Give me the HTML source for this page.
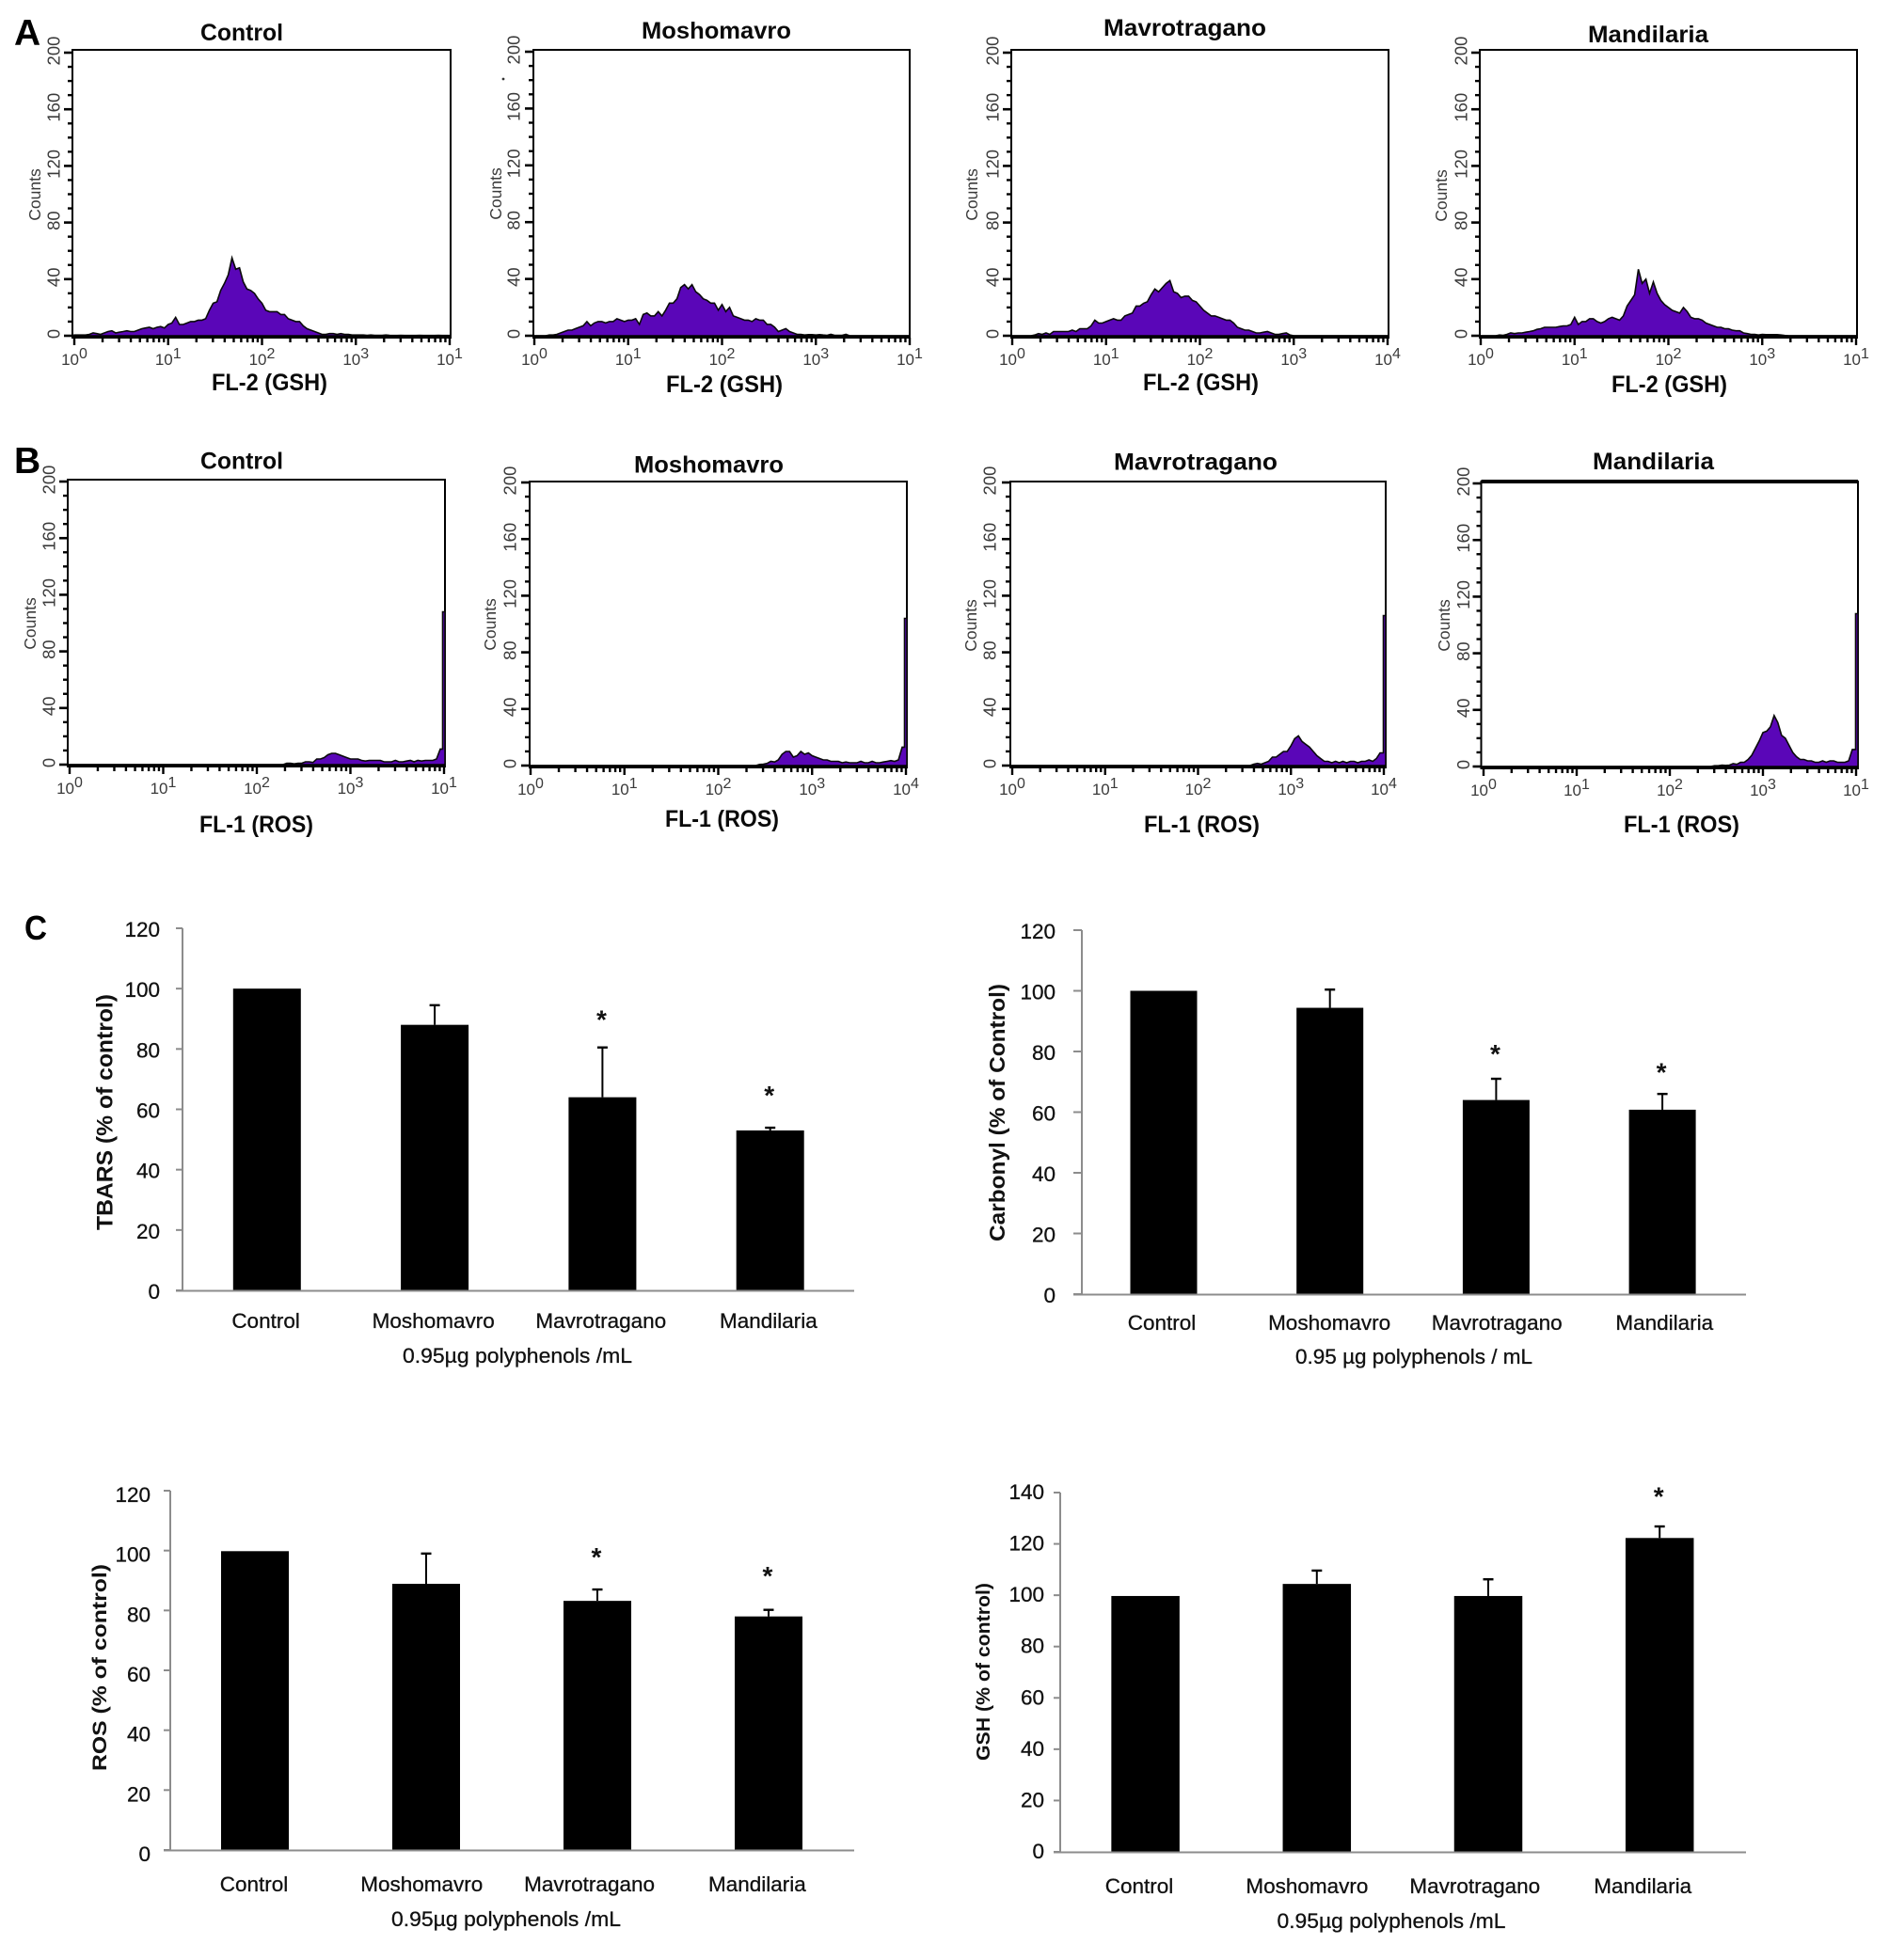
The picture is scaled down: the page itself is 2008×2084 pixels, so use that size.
<!DOCTYPE html>
<html lang="en">
<head>
<meta charset="utf-8">
<title>Flow cytometry histograms and oxidative stress bar charts</title>
<style>
  html, body { margin: 0; padding: 0; background: #fff; }
  svg { display: block; }
  text { font-family: "Liberation Sans", sans-serif; }
  .flow-tick { fill: #3a3a3a; font-size: 17px; }
  .flow-title { fill: #0a0a0a; font-size: 25px; font-weight: bold; }
  .bar-text { fill: #111; font-size: 22.5px; stroke: #111; stroke-width: .3px; }
  .bar-title { fill: #111; font-weight: bold; }
  .panel-letter { fill: #000; font-weight: bold; }
</style>
</head>
<body>
<svg id="figure" xmlns="http://www.w3.org/2000/svg" width="2008" height="2084" viewBox="0 0 2008 2084">
  <rect width="2008" height="2084" fill="#fff"/>
  <text class="panel-letter" x="15" y="48" font-size="39">A</text>
  <text class="panel-letter" x="15" y="503" font-size="39">B</text>
  <text class="panel-letter" x="26" y="999" font-size="36" textLength="24" lengthAdjust="spacingAndGlyphs">C</text>
  <circle cx="535" cy="84" r="1.4" fill="#333"/>
</svg>
<script>
// ---------- Histogram data: counts per channel bin (101 bins over 4 log decades) ----------
const gshControl = [0.5,0.5,0.5,0.5,1,2,1.5,1,2,3,3.5,2,2.5,3,3.5,3,3,4,5,5.5,6,5,6,6.5,5.5,8,9,13,8,8,9,10,10,11,11,12,18,23,24,32,37,43,55,47,48,38,33,32,30,26,23,18,17,17,17,15,15,12,11,10,10,7,5,4,3,2,1,1,1.5,1.5,1,1.5,1,1,0.5,0.5,0.5,0.5,0.3,0.5,0.3,0.3,0.3,0.5,0.3,0.2,0.2,0.3,0.2,0.2,0.2,0.2,0.3,0.2,0.2,0.2,0.2,0.3,0.2,0.2,0.2];
const gshMoshomavro = [0,0,0,0,0.5,0.5,1,2,3,4,4,5,6,7,10,7,9,10,10,9,10,10,12,11,10,11,11,12,8,15,16,14,14,17,14,18,23,23,26,34,36,33,36,31,29,26,25,23,23,18,22,17,20,14,13,12,11,11,10,12,11,11,8,8,6,3,4,5,3,2,1,1,0.5,0.8,0.8,0.5,0.8,0.5,0.3,1,0.3,0.3,0.3,1,0,0,0,0,0,0,0,0,0,0,0,0,0,0,0,0,0];
const gshMavrotragano = [0,0,0,0,0,0,0.5,1.5,1,2,1,3,3,3,3,3,4,3,5,5,5,7,11,9,9,10,11,12,11,11,14,15,16,21,21,23,24,29,33,31,34,37,39,31,30,27,28,28,25,24,21,18,16,14,14,13,12,11,11,9,6,5,4,4,3,2,2,2.5,3,2,1,1,1.5,2,0.5,0,0,0,0,0,0,0,0,0,0,0,0,0,0,0,0,0,0,0,0,0,0,0,0,0,0];
const gshMandilaria = [0,0,0,0,0,0.5,0.3,1,2,1.5,2,2,2.5,3,3.5,4.5,5,6,6,6,6,6.5,7,7,8,13,8,10,10,12,12,10,9,10,12,13,12,11,14,21,25,29,47,37,40,30,38,30,25,22,20,18,17,16,20,17,13,12,12,11,9,8,7,6,6,5,5,4,3.5,3.5,2,1.5,1,1,0.5,1,0.8,0.8,0.8,0.8,0.5,0.2,0,0,0,0,0,0,0,0,0,0,0,0,0,0,0,0,0,0,0];
const rosControl = [0,0,0,0,0,0,0,0,0,0,0,0,0,0,0,0,0,0,0,0,0,0,0,0,0,0,0,0,0,0,0,0,0,0,0,0,0,0,0,0,0,0,0,0,0,0,0,0,0,0,0,0,0,0,0,0,0,0,1,1,0.5,1,1,2,2,1.5,4,4,5,7,8,8,7,6,5,4,4,4,3,2.5,3,3,3,3,2,2,2,3,2,2,2.5,3,2,3,2.5,3,3,3,4,11,108];
const rosMoshomavro = [0,0,0,0,0,0,0,0,0,0,0,0,0,0,0,0,0,0,0,0,0,0,0,0,0,0,0,0,0,0,0,0,0,0,0,0,0,0,0,0,0,0,0,0,0,0,0,0,0,0,0,0,0,0,0,0,0,0,0,0,0,0.8,1,1.5,3,2.5,4,8,10,10,6,7,10,8,9,7,6,5,4,4,3,3,3,2,2.5,2,2,2,3,2,2,3,2,2,2.5,3,3.5,3,4,13,104];
const rosMavrotragano = [0,0,0,0,0,0,0,0,0,0,0,0,0,0,0,0,0,0,0,0,0,0,0,0,0,0,0,0,0,0,0,0,0,0,0,0,0,0,0,0,0,0,0,0,0,0,0,0,0,0,0,0,0,0,0,0,0,0,0,0,0,0,0,0,0,1,1.5,1,2,3,6,6,8,10,10,14,19,21,17,15,13,10,7,5,3,3,2,3,2,3,2,3,3,2,3,3,4,3,5,9,106];
const rosMandilaria = [0,0,0,0,0,0,0,0,0,0,0,0,0,0,0,0,0,0,0,0,0,0,0,0,0,0,0,0,0,0,0,0,0,0,0,0,0,0,0,0,0,0,0,0,0,0,0,0,0,0,0,0,0,0,0,0,0,0,0,0,0,0,0.5,0.5,1,0.8,1,2,1.5,3,3,5,8,13,18,24,25,28,36,31,22,20,15,10,7,5,5,4,4,3,3,4,3,4,4,3,3,3,4,12,108];

// ---------- Flow axis labels ----------
const flowCountTicks = [0, 40, 80, 120, 160, 200];
const flowDecades = [0, 1, 2, 3, 4];

// ---------- Bar chart data ----------
const categories = ["Control", "Moshomavro", "Mavrotragano", "Mandilaria"];
const tbarsValues = [100, 88, 64, 53];
const tbarsErrors = [0, 6.5, 16.5, 0.9];
const tbarsStars = [null, null, 90.5, 65.5];
const tbarsTicks = [0, 20, 40, 60, 80, 100, 120];
const carbonylValues = [100, 94.4, 64, 60.8];
const carbonylErrors = [0, 6, 7, 5.2];
const carbonylStars = [null, null, 80, 74];
const carbonylTicks = [0, 20, 40, 60, 80, 100, 120];
const rosValues = [99.8, 88.9, 83.2, 78];
const rosErrors = [0, 10.1, 3.8, 2.2];
const rosStars = [null, null, 98.6, 92.4];
const rosTicks = [0, 20, 40, 60, 80, 100, 120];
const gshValues = [99.7, 104.4, 99.7, 122.3];
const gshErrors = [0, 5.2, 6.5, 4.5];
const gshStars = [null, null, null, 139.5];
const gshTicks = [0, 20, 40, 60, 80, 100, 120, 140];

// ---------- Layout ----------
const flowPanels = [
  {key:"gsh-control", title:"Control", tx:213, tw:88, ty:43, xlabel:"FL-2 (GSH)", lx:225, lw:123, ly:415, left:77, right:479, top:53, x0:79, x4:478, y200:56, y0:357, cx:37, cy:207, nx:57, last:"1", data:gshControl},
  {key:"gsh-moshomavro", title:"Moshomavro", tx:682, tw:159, ty:41, xlabel:"FL-2 (GSH)", lx:708, lw:124, ly:417, left:567, right:967, top:53, x0:568, x4:967, y200:55, y0:357, cx:527, cy:206, nx:546, last:"1", data:gshMoshomavro},
  {key:"gsh-mavrotragano", title:"Mavrotragano", tx:1173, tw:173, ty:38, xlabel:"FL-2 (GSH)", lx:1215, lw:123, ly:415, left:1075, right:1476, top:53, x0:1076, x4:1475, y200:56, y0:357, cx:1033, cy:207, nx:1055, last:"4", data:gshMavrotragano},
  {key:"gsh-mandilaria", title:"Mandilaria", tx:1688, tw:128, ty:45, xlabel:"FL-2 (GSH)", lx:1713, lw:123, ly:417, left:1573, right:1974, top:53, x0:1574, x4:1973, y200:56, y0:357, cx:1532, cy:208, nx:1553, last:"1", data:gshMandilaria},
  {key:"ros-control", title:"Control", tx:213, tw:88, ty:498.5, xlabel:"FL-1 (ROS)", lx:212, lw:121, ly:885, left:72, right:473, top:510, x0:74, x4:472, y200:512, y0:813, cx:32, cy:663, nx:52, last:"1", data:rosControl},
  {key:"ros-moshomavro", title:"Moshomavro", tx:674, tw:159, ty:502.5, xlabel:"FL-1 (ROS)", lx:707, lw:121, ly:879, left:563, right:964, top:512, x0:564, x4:963, y200:513, y0:814, cx:521, cy:664, nx:542, last:"4", data:rosMoshomavro},
  {key:"ros-mavrotragano", title:"Mavrotragano", tx:1184, tw:174, ty:499.5, xlabel:"FL-1 (ROS)", lx:1216, lw:123, ly:885, left:1074, right:1473, top:512, x0:1076, x4:1471, y200:513, y0:814, cx:1032, cy:665, nx:1052, last:"4", data:rosMavrotragano},
  {key:"ros-mandilaria", title:"Mandilaria", tx:1693, tw:129, ty:499, xlabel:"FL-1 (ROS)", lx:1726, lw:123, ly:885, left:1574.5, right:1975, top:512, x0:1577, x4:1973, y200:514, y0:815, cx:1535, cy:665, nx:1555.5, last:"1", topW:4, data:rosMandilaria}
];

const barCharts = [
  {key:"tbars", title:"TBARS (% of control)", tcx:112, tTop:1057, tBot:1308, tfs:24, axisX:194, axisL:187, axisR:908, yTop:987, y0:1372, yMax:120, tickRight:170, tickDy:9,
   c0:283.8, step:178.3, bw:72, l0:282.6, lstep:178.1, ly:1412, xlabel:"0.95\u00B5g polyphenols /mL", xcx:550, xly:1449, xw:244, values:tbarsValues, errors:tbarsErrors, stars:tbarsStars, ticks:tbarsTicks},
  {key:"carbonyl", title:"Carbonyl (% of Control)", tcx:1060, tTop:1046, tBot:1320, tfs:23, axisX:1150, axisL:1141, axisR:1856, yTop:989, y0:1376, yMax:120, tickRight:1122, tickDy:9,
   c0:1237, step:176.7, bw:71, l0:1235, lstep:178.1, ly:1414, xlabel:"0.95 \u00B5g polyphenols / mL", xcx:1503, xly:1450, xw:252, values:carbonylValues, errors:carbonylErrors, stars:carbonylStars, ticks:carbonylTicks},
  {key:"ros", title:"ROS (% of control)", tcx:106, tTop:1663, tBot:1883, tfs:21.5, axisX:181, axisL:174, axisR:908, yTop:1585, y0:1967, yMax:120, tickRight:160, tickDy:12,
   c0:271, step:182, bw:72, l0:270, lstep:178.3, ly:2011, xlabel:"0.95\u00B5g polyphenols /mL", xcx:538, xly:2048, xw:244, values:rosValues, errors:rosErrors, stars:rosStars, ticks:rosTicks},
  {key:"gsh", title:"GSH (% of control)", tcx:1046, tTop:1683, tBot:1872, tfs:20, axisX:1127, axisL:1120, axisR:1856, yTop:1587, y0:1969, yMax:140, tickRight:1110, tickDy:7,
   c0:1217.6, step:182.2, bw:72.5, l0:1211, lstep:178.4, ly:2013, xlabel:"0.95\u00B5g polyphenols /mL", xcx:1479, xly:2050, xw:243, values:gshValues, errors:gshErrors, stars:gshStars, ticks:gshTicks}
];

const NS = "http://www.w3.org/2000/svg";
const root = document.getElementById("figure");
const PURPLE = "#5a06b8";
const GREY = "#8c8c8c";

function svgEl(tag, props, parent) {
  const node = document.createElementNS(NS, tag);
  for (const k in props) node.setAttribute(k, props[k]);
  (parent || root).appendChild(node);
  return node;
}

// ---------- Flow cytometry histograms ----------
function drawFlow(p) {
  const g = svgEl("g", {});
  
  

  const xScale = v => p.x0 + (p.x4 - p.x0) * v / 4;
  const yScale = c => p.y0 - (p.y0 - p.y200) * c / 200;
  const lastBin = p.data.length - 1;
  const binX = i => xScale(4 * i / lastBin);

  const frame = svgEl("rect", {x:p.left, y:p.top, width:p.right-p.left, height:p.y0+2-p.top, fill:"none", stroke:"#000", "stroke-width":2}, g);
  
  
  if (p.topW) {
    const topEdge = svgEl("line", {x1:p.left, x2:p.right, y1:p.top, y2:p.top, stroke:"#000", "stroke-width":p.topW}, g);
    
    
  }

  // histogram outline through every channel; the final channel is the off-scale pile-up bin
  let d = "M" + binX(0).toFixed(1) + " " + (p.y0 + 1);
  p.data.forEach((c, i) => {
    const yy = yScale(c).toFixed(1);
    if (i === lastBin) {
      d += "L" + (p.right - 2.5).toFixed(1) + " " + yScale(p.data[i - 1]).toFixed(1);
      d += "L" + (p.right - 2.5).toFixed(1) + " " + yy + "L" + p.right + " " + yy;
    } else {
      d += "L" + binX(i).toFixed(1) + " " + yy;
    }
  });
  d += "L" + p.right + " " + (p.y0 + 1) + "Z";
  const area = svgEl("path", {d:d, fill:PURPLE, stroke:"#0a0a0a", "stroke-width":1.6, "stroke-linejoin":"miter"}, g);
  
  

  const baseline = svgEl("line", {x1:p.left, x2:p.right, y1:p.y0+1, y2:p.y0+1, stroke:"#000", "stroke-width":3.5}, g);
  
  

  // y ticks: minor every 10 counts, major at labelled counts
  for (let c = 0; c <= 200; c += 10) {
    const major = flowCountTicks.indexOf(c) >= 0;
    const tick = svgEl("line", {x1:p.left-(major?9:5), x2:p.left, y1:yScale(c), y2:yScale(c), stroke:"#000", "stroke-width":major?2.6:2.4}, g);
    
    
  }
  flowCountTicks.forEach(c => {
    const yy = yScale(c) - 2;
    const lab = svgEl("text", {x:p.nx, y:yy, "text-anchor":"middle", "dominant-baseline":"central", transform:"rotate(-90 "+p.nx+" "+yy+")", class:"flow-tick", style:"font-size:18.5px"}, g);
    lab.textContent = c;
    
    
  });

  // log x ticks
  flowDecades.forEach(dec => {
    const tick = svgEl("line", {x1:xScale(dec), x2:xScale(dec), y1:p.y0+2, y2:p.y0+10, stroke:"#000", "stroke-width":2.4}, g);
    
    
    if (dec < 4) {
      for (let m = 2; m < 10; m++) {
        const xm = xScale(dec + Math.log10(m));
        const minor = svgEl("line", {x1:xm, x2:xm, y1:p.y0+2, y2:p.y0+7, stroke:"#000", "stroke-width":2.4}, g);
        
        
      }
    }
    const lab = svgEl("text", {x:xScale(dec), y:p.y0+31, "text-anchor":"middle", class:"flow-tick"}, g);
    
    
    const base = svgEl("tspan", {}, lab);
    base.textContent = "10";
    const sup = svgEl("tspan", {dy:-7, "font-size":16}, lab);
    sup.textContent = dec === 4 ? p.last : String(dec);
  });

  const counts = svgEl("text", {x:p.cx, y:p.cy, "text-anchor":"middle", "dominant-baseline":"central", transform:"rotate(-90 "+p.cx+" "+p.cy+")", class:"flow-tick", style:"font-size:17.5px"}, g);
  counts.textContent = "Counts";
  
  

  const title = svgEl("text", {x:p.tx, y:p.ty, class:"flow-title", textLength:p.tw, lengthAdjust:"spacingAndGlyphs"}, g);
  title.textContent = p.title;
  
  

  const xl = svgEl("text", {x:p.lx, y:p.ly, class:"flow-title", textLength:p.lw, lengthAdjust:"spacingAndGlyphs"}, g);
  xl.textContent = p.xlabel;
  
  
}

// ---------- Bar charts ----------
function drawBars(c) {
  const g = svgEl("g", {});
  
  

  const yScale = v => c.y0 - (c.y0 - c.yTop) * v / c.yMax;
  const xBand = i => c.c0 + c.step * i;

  c.values.forEach((v, i) => {
    const top = yScale(v);
    const bar = svgEl("rect", {x:xBand(i)-c.bw/2, y:top, width:c.bw, height:c.y0-top, fill:"#000"}, g);
    
    

    if (c.errors[i] > 0) {
      const et = yScale(v + c.errors[i]);
      const stem = svgEl("line", {x1:xBand(i), x2:xBand(i), y1:top, y2:et, stroke:"#000", "stroke-width":2}, g);
      
      
      const cap = svgEl("line", {x1:xBand(i)-5.5, x2:xBand(i)+5.5, y1:et, y2:et, stroke:"#000", "stroke-width":2.4}, g);
      
      
    }
    if (c.stars[i] !== null) {
      const star = svgEl("text", {x:xBand(i)-1, y:yScale(c.stars[i])+12, "text-anchor":"middle", "font-size":28, "font-weight":"bold", fill:"#111"}, g);
      star.textContent = "*";
      
      
    }
  });

  const yAxis = svgEl("line", {x1:c.axisX, x2:c.axisX, y1:c.yTop, y2:c.y0, stroke:GREY, "stroke-width":2}, g);
  
  
  const xAxis = svgEl("line", {x1:c.axisL, x2:c.axisR, y1:c.y0+0.5, y2:c.y0+0.5, stroke:GREY, "stroke-width":2}, g);
  
  

  c.ticks.forEach(t => {
    const yy = yScale(t);
    const tick = svgEl("line", {x1:c.axisL, x2:c.axisX, y1:yy, y2:yy, stroke:GREY, "stroke-width":2}, g);
    
    
    const lab = svgEl("text", {x:c.tickRight, y:yy+c.tickDy, "text-anchor":"end", class:"bar-text"}, g);
    lab.textContent = t;
    
    
  });

  categories.forEach((name, i) => {
    const lab = svgEl("text", {x:c.l0 + c.lstep*i, y:c.ly, "text-anchor":"middle", class:"bar-text"}, g);
    lab.textContent = name;
    
    
  });

  const xl = svgEl("text", {x:c.xcx - c.xw/2, y:c.xly, class:"bar-text", textLength:c.xw, lengthAdjust:"spacingAndGlyphs"}, g);
  xl.textContent = c.xlabel;
  
  

  const len = c.tBot - c.tTop;
  const cy = (c.tTop + c.tBot) / 2;
  const yt = svgEl("text", {x:c.tcx, y:cy, "dominant-baseline":"central", "text-anchor":"middle", transform:"rotate(-90 "+c.tcx+" "+cy+")", class:"bar-title", "font-size":c.tfs, textLength:len, lengthAdjust:"spacingAndGlyphs"}, g);
  yt.textContent = c.title;
  
  
}

flowPanels.forEach(drawFlow);
barCharts.forEach(drawBars);
</script>
</body>
</html>
